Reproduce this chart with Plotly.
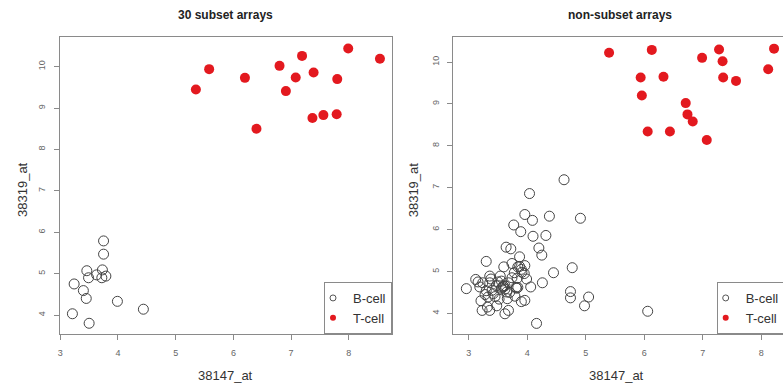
import plotly.graph_objects as go

# ---- data: 30 subset arrays ----
sub_b_x = [3.75, 3.75, 3.46, 3.73, 3.63, 3.49, 3.72, 3.79, 3.24, 3.40, 3.45, 3.99, 4.44, 3.21, 3.50]
sub_b_y = [5.79, 5.47, 5.07, 5.09, 4.97, 4.90, 4.90, 4.94, 4.75, 4.59, 4.40, 4.33, 4.14, 4.03, 3.80]
sub_t_x = [5.35, 5.58, 6.20, 6.40, 6.80, 6.91, 7.08, 7.19, 7.39, 7.37, 7.56, 7.79, 7.80, 7.99, 8.54]
sub_t_y = [9.45, 9.94, 9.73, 8.50, 10.02, 9.41, 9.74, 10.26, 9.86, 8.76, 8.83, 8.85, 9.70, 10.44, 10.19]

# ---- data: non-subset arrays ----
non_b_x = [4.63, 4.04, 3.96, 4.09, 4.38, 4.91, 3.77, 3.89, 4.10, 4.32,
           3.64, 3.72, 4.20, 4.25, 3.30, 3.87, 3.74, 3.60, 3.84, 3.96,
           4.77, 4.45, 3.78, 3.91, 3.36, 3.54, 3.12, 3.16, 3.99, 3.83,
           4.26, 3.36, 3.47, 3.59, 3.62, 3.81, 4.06, 2.96, 3.19, 3.30,
           3.65, 3.42, 3.79, 3.33, 4.74, 4.74, 5.05, 3.52, 3.21, 3.90,
           3.96, 4.98, 3.48, 3.32, 3.23, 3.36, 3.68, 3.62, 6.06, 4.16,
           3.24, 3.56, 3.68, 3.58, 3.60, 3.56, 3.62, 3.84, 3.82, 3.87,
           3.90, 3.40, 3.45, 3.28, 3.70, 3.50, 3.38, 3.74, 3.95, 3.66]
non_b_y = [7.19, 6.86, 6.36, 6.22, 6.32, 6.27, 6.11, 5.95, 5.84, 5.86,
           5.58, 5.54, 5.56, 5.39, 5.24, 5.35, 5.19, 5.11, 5.11, 5.14,
           5.09, 4.97, 4.97, 4.98, 4.89, 4.89, 4.81, 4.75, 4.82, 4.84,
           4.73, 4.73, 4.66, 4.65, 4.58, 4.62, 4.63, 4.59, 4.63, 4.54,
           4.51, 4.47, 4.41, 4.39, 4.52, 4.37, 4.39, 4.34, 4.30, 4.28,
           4.31, 4.18, 4.18, 4.15, 4.07, 4.07, 4.07, 3.99, 4.05, 3.76,
           4.73, 4.77, 4.73, 4.62, 4.64, 4.60, 4.66, 4.62, 4.60, 5.12,
           5.05, 4.55, 4.40, 4.45, 4.50, 4.75, 4.82, 4.85, 4.95, 4.35]
non_t_x = [5.40, 6.13, 5.94, 5.96, 6.33, 6.06, 6.44, 6.71, 6.74, 6.83,
           7.07, 6.99, 7.28, 7.34, 7.35, 7.57, 8.12, 8.22]
non_t_y = [10.22, 10.29, 9.63, 9.20, 9.65, 8.34, 8.34, 9.02, 8.75, 8.58,
           8.14, 10.10, 10.30, 10.02, 9.63, 9.55, 9.83, 10.32]

x_ticks = [3, 4, 5, 6, 7, 8]
y_ticks = [4, 5, 6, 7, 8, 9, 10]
titles = ["30 subset arrays", "non-subset arrays"]
labels = ["B-cell", "T-cell"]

W, H = 783, 383
T, B = 37, 49
RED = "#E3191F"
OPEN = "#444444"
GRAY = "#8a8a8a"
FONT = "Liberation Sans, Arial, sans-serif"

fig = go.Figure()

def add_panel(bx, by, tx, ty, xa, ya, leg):
    fig.add_trace(go.Scatter(x=bx, y=by, mode="markers", xaxis=xa, yaxis=ya, showlegend=False,
                             marker=dict(symbol="circle-open", size=10, color=OPEN, line=dict(width=1, color=OPEN))))
    fig.add_trace(go.Scatter(x=tx, y=ty, mode="markers", xaxis=xa, yaxis=ya, showlegend=False,
                             marker=dict(symbol="circle", size=10, color=RED, line=dict(width=0))))
    # legend entries
    fig.add_trace(go.Scatter(x=[None], y=[None], mode="markers", xaxis=xa, yaxis=ya, name=labels[0], legend=leg,
                             marker=dict(symbol="circle-open", size=6, color="#555", line=dict(width=1, color="#555"))))
    fig.add_trace(go.Scatter(x=[None], y=[None], mode="markers", xaxis=xa, yaxis=ya, name=labels[1], legend=leg,
                             marker=dict(symbol="circle", size=6, color=RED)))

add_panel(sub_b_x, sub_b_y, sub_t_x, sub_t_y, "x", "y", "legend")
add_panel(non_b_x, non_b_y, non_t_x, non_t_y, "x2", "y2", "legend2")

xd1 = [60 / W, 392 / W]
xd2 = [453.3 / W, 1.0]

axis_common = dict(showgrid=False, zeroline=False, showline=True, linecolor=GRAY, linewidth=1,
                   ticks="outside", ticklen=5, tickcolor=GRAY, tickwidth=1, automargin=False,
                   tickfont=dict(family=FONT, size=9, color="#666"))

leg_common = dict(bgcolor="white", bordercolor=GRAY, borderwidth=1,
                  font=dict(family=FONT, size=13, color="#333"),
                  itemwidth=30, tracegroupgap=0, indentation=-12)

fig.update_layout(
    width=W, height=H, margin=dict(l=0, r=0, t=T, b=B, autoexpand=False),
    paper_bgcolor="white", plot_bgcolor="white",
    font=dict(family=FONT),
    xaxis=dict(domain=xd1, range=[2.995, 8.749], tickvals=x_ticks, mirror=True, anchor="y",
               ticklabelstandoff=5, **axis_common),
    yaxis=dict(domain=[0, 1], range=[3.541, 10.717], tickvals=y_ticks, mirror=True, anchor="x",
               tickangle=-90, ticklabelstandoff=5, **axis_common),
    xaxis2=dict(domain=xd2, range=[2.737, 8.373], tickvals=x_ticks, mirror=True, anchor="y2",
                ticklabelstandoff=5, **axis_common),
    yaxis2=dict(domain=[0, 1], range=[3.507, 10.598], tickvals=y_ticks, mirror=False, anchor="x2",
                tickangle=-90, ticklabelstandoff=5, **axis_common),
    legend=dict(x=392 / W, y=0, xanchor="right", yanchor="bottom", **leg_common),
    legend2=dict(x=716.7 / W, y=0, xanchor="left", yanchor="bottom", **leg_common),
)

ph = H - T - B
def py(pix):
    return (H - B - pix) / ph

ann = [
    dict(text="<b>" + titles[0] + "</b>", x=226 / W, y=py(15), font=dict(size=12, color="#222")),
    dict(text="<b>" + titles[1] + "</b>", x=620 / W, y=py(15), font=dict(size=12, color="#222")),
    dict(text="38147_at", x=226 / W, y=py(375), font=dict(size=13, color="#333")),
    dict(text="38147_at", x=616.7 / W, y=py(375), font=dict(size=13, color="#333")),
    dict(text="38319_at", x=22 / W, y=py(190), textangle=-90, font=dict(size=13, color="#333")),
    dict(text="38319_at", x=413.3 / W, y=py(190), textangle=-90, font=dict(size=13, color="#333")),
]
for a in ann:
    fig.add_annotation(xref="paper", yref="paper", xanchor="center", yanchor="middle",
                       showarrow=False, **a)

fig.write_html("out.html")
